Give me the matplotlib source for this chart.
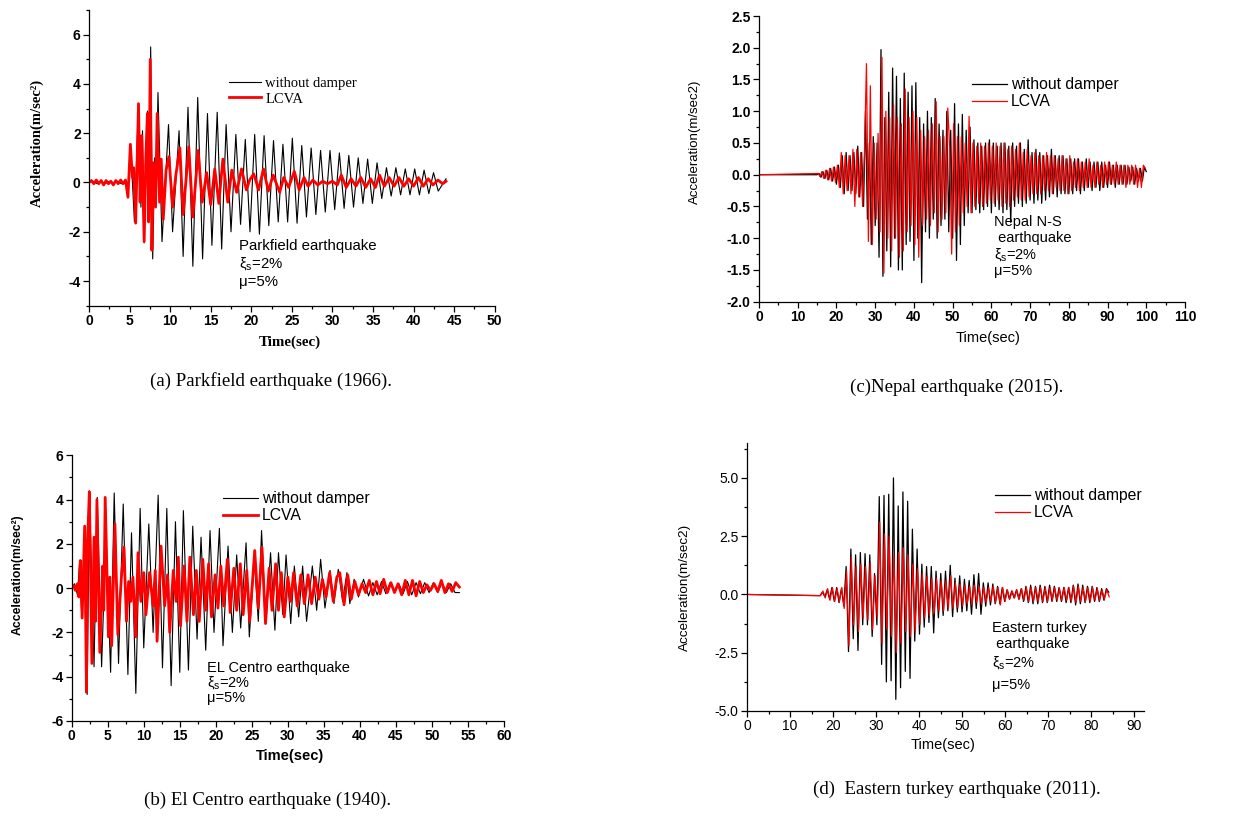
import numpy as np
import matplotlib
matplotlib.use("Agg")
import matplotlib.pyplot as plt
from matplotlib.ticker import MultipleLocator, FormatStrFormatter

plt.rcParams['axes.unicode_minus'] = False
plt.rcParams['mathtext.fontset'] = 'custom'
plt.rcParams['mathtext.rm'] = 'Liberation Sans'
plt.rcParams['mathtext.it'] = 'Liberation Sans:italic'
plt.rcParams['font.family'] = ['Liberation Sans', 'DejaVu Sans']

# ---------------- data (successive peaks / troughs) ----------------
# (a) Parkfield 1966
park_black_t = [0, 0.5, 1, 1.5, 2, 2.5, 3, 3.5, 4, 4.5, 4.8, 5.1, 5.4, 5.6, 6.1, 6.4, 6.6, 6.8,
                7.2, 7.4, 7.6, 7.85, 8.1, 8.25, 8.5, 9.0, 9.8, 10.3, 11.1, 11.6, 12.2, 12.8,
                13.4, 14.0, 14.6, 15.15, 15.8, 16.35, 16.9, 17.5]
park_black_v = [0, 0.05, -0.05, 0.05, -0.05, 0.05, -0.05, 0.05, -0.05, 0.05, -0.55, 1.5, -0.3, -1.6,
                3.2, -1.0, 2.1, -2.45, 2.9, -1.5, 5.5, -3.1, 1.0, -1.0, 3.65, -2.4, 2.35, -2.0,
                2.1, -3.0, 3.05, -3.4, 3.45, -3.1, 2.8, -2.55, 2.85, -2.7, 2.35, -2.0]
# free vibration tail, one value every half cycle (0.58 s) from 18.1 s
park_tail_start, park_tail_step = 18.1, 0.58
park_tail_v = [1.95, -1.7, 1.75, -2.0, 1.95, -2.1, 1.9, -1.75, 1.7, -1.6, 1.55, -1.6, 1.8, -1.65,
               1.5, -1.4, 1.4, -1.3, 1.3, -1.2, 1.3, -1.1, 1.2, -1.05, 1.1, -1.0, 1.0, -0.85,
               0.95, -0.85, 0.8, -0.65, 0.6, -0.55, 0.6, -0.5, 0.55, -0.5, 0.55, -0.5, 0.5,
               -0.45, 0.4, -0.35]
park_end = (44.0, 0.15)

park_red_t = [0, 0.3, 0.6, 0.9, 1.2, 1.5, 1.8, 2.1, 2.4, 2.7, 3.0, 3.3, 3.6, 3.9, 4.2, 4.5, 4.8,
              5.1, 5.35, 5.5, 5.75, 6.1, 6.3, 6.5, 6.8, 7.0, 7.2, 7.35, 7.55, 7.75, 7.95, 8.2,
              8.4, 8.7, 8.9, 9.15, 9.5, 9.85, 10.3, 10.7, 11.2, 11.6, 12.3, 12.8, 13.45, 13.95,
              14.5, 15.0, 15.5, 16.0, 16.5, 17.1, 17.6, 18.2, 18.8, 19.4, 19.8, 20.3, 20.9,
              21.5, 22.1, 22.7, 23.5, 24.0, 24.6, 25.3, 25.9, 26.5, 27.0, 27.6, 28.2, 28.8,
              29.4, 30.0, 30.6, 31.1, 31.7, 32.3, 32.9, 33.5, 34.1, 34.7, 35.3, 35.8, 36.4,
              37.0, 37.6, 38.2, 38.8, 39.4, 40.0, 40.6, 41.2, 41.8, 42.4, 43.0, 43.6, 44.0]
park_red_v = [0, 0.08, -0.05, 0.1, -0.05, 0.08, -0.1, 0.08, -0.05, 0.05, -0.1, 0.08, -0.05, 0.1,
              -0.05, 0.1, -0.6, 1.55, 0.2, 0.6, -1.65, 3.2, -0.8, 1.9, -2.4, 1.0, 2.8, -1.6, 5.0,
              -2.75, 0.8, -1.0, 2.8, -0.8, 0.95, -1.5, 0.5, 1.05, -1.0, 0.3, 1.4, -1.3, 1.45,
              -1.4, 1.3, -0.8, 0.4, -0.9, 0.55, -0.85, 0.95, -0.8, 0.5, -0.4, 0.55, -0.3, 0.1,
              0.35, -0.3, 0.55, -0.35, 0.3, -0.4, 0.2, -0.2, 0.45, -0.3, 0.2, -0.15, 0.1, -0.1,
              0.05, -0.05, 0.05, -0.1, 0.3, -0.2, 0.15, -0.15, 0.2, -0.2, 0.15, -0.2, 0.3, -0.15,
              0.2, -0.15, 0.2, -0.15, 0.15, -0.15, 0.2, -0.15, 0.15, -0.1, 0.1, -0.05, 0.05]

# (b) El Centro 1940
elc_black_t = [0, 0.4, 0.8, 1.1, 1.4, 1.8, 2.15, 2.45, 3.1, 3.55, 4.15, 4.75, 5.4, 5.9, 6.5, 7.15,
               7.8, 8.3, 8.9, 9.5, 10.0, 10.7, 11.3, 12.0, 12.6, 13.2, 13.8, 14.4, 15.0, 15.5,
               16.2, 16.8, 17.4, 17.95, 18.6, 19.2, 19.75, 20.5, 21.0, 21.7, 22.3, 22.9, 23.45,
               24.2, 24.65, 25.35, 25.9, 26.35, 26.95, 27.6, 28.2, 28.7, 29.3, 29.75, 30.4,
               30.9, 31.5, 32.05, 32.6, 33.4, 34.0, 34.55, 35.15, 35.85, 36.4, 37.0, 37.6, 38.2,
               38.6, 39.2, 39.8, 40.5, 41.2, 41.8, 42.4, 43.0, 43.6, 44.2, 44.8, 45.4, 46.0,
               46.6, 47.2, 47.8, 48.4, 49.0, 49.6, 50.2, 50.8, 51.4, 52.0, 52.6, 53.2, 53.8]
elc_black_v = [0, 0.2, -0.3, 1.2, -1.3, 2.7, -4.8, 4.4, -3.55, 4.1, -3.55, 2.5, -3.8, 4.3, -3.4,
               3.8, -3.9, 2.5, -4.75, 3.6, -2.7, 2.9, -2.0, 4.2, -3.6, 3.6, -4.4, 3.0, -3.8, 3.5,
               -3.7, 2.8, -2.3, 2.3, -2.8, 2.6, -2.0, 2.7, -2.6, 1.9, -2.0, 1.5, -1.8, 2.05,
               -2.2, 1.3, -1.5, 2.6, -1.6, 1.6, -1.9, 1.6, -1.2, 1.5, -1.6, 1.0, -1.3, 1.0, -1.5,
               1.0, -1.0, 1.3, -0.9, 0.8, -0.7, 0.85, -0.6, 0.7, -0.7, 0.4, -0.4, 0.4, -0.35,
               0.25, -0.3, 0.3, -0.25, 0.25, -0.2, 0.2, -0.25, 0.3, -0.3, 0.25, -0.25, 0.25,
               -0.2, 0.25, -0.2, 0.25, -0.2, 0.2, -0.2, -0.2]

elc_red_t = [0, 0.3, 0.5, 0.8, 1.0, 1.2, 1.45, 1.8, 2.05, 2.2, 2.45, 2.8, 3.1, 3.3, 3.5, 3.9, 4.3,
             4.45, 4.65, 5.1, 5.3, 5.55, 6.0, 6.4, 6.9, 7.25, 7.6, 7.9, 8.2, 8.5, 8.9, 9.2, 9.6,
             10.0, 10.3, 10.8, 11.3, 11.6, 11.85, 12.4, 12.9, 13.3, 13.6, 14.1, 14.5, 14.8,
             15.1, 15.6, 16.0, 16.4, 16.9, 17.3, 17.7, 18.2, 18.6, 19.0, 19.4, 19.9, 20.3, 20.7,
             21.1, 21.6, 22.0, 22.5, 22.9, 23.4, 23.8, 24.3, 24.7, 25.4, 25.9, 26.4, 26.9, 27.4,
             27.8, 28.3, 28.7, 29.1, 29.5, 30.0, 30.4, 30.8, 31.3, 31.8, 32.3, 32.8, 33.3, 33.8,
             34.3, 34.8, 35.3, 35.8, 36.3, 36.8, 37.2, 37.8, 38.3, 38.8, 39.3, 39.8, 40.3, 40.8,
             41.3, 41.8, 42.3, 42.8, 43.3, 43.8, 44.3, 44.8, 45.3, 45.8, 46.3, 46.8, 47.3, 47.8,
             48.3, 48.8, 49.3, 49.8, 50.3, 50.8, 51.3, 51.8, 52.3, 52.8, 53.3, 53.8]
elc_red_v = [0, 0.1, -0.1, 0.2, -0.4, 1.25, -1.35, 2.8, -4.7, 2.1, 4.35, -3.4, 2.3, -1.5, 4.0,
             -2.9, 1.0, -1.0, 4.1, -2.2, 0.5, -2.6, 2.9, -2.1, 0.5, 1.85, -1.5, 0.3, -0.6, 0.5,
             -2.2, 1.6, -0.6, 0.7, -1.2, 0.7, -0.8, 0.8, -2.4, 1.9, -0.8, 0.6, -2.0, 0.8, -0.6,
             1.4, -1.7, 1.0, -1.5, 1.4, -1.2, 0.8, -1.5, 1.3, -1.0, 1.1, -1.3, 0.6, -0.9, 1.0,
             -0.8, 1.3, -1.1, 0.9, -1.0, 1.1, -1.2, 0.8, -1.5, 1.7, -0.9, 1.85, -1.6, 0.9, -1.0,
             1.1, -1.0, 0.7, -1.3, 0.5, -0.6, 0.7, -0.8, 0.6, -0.7, 0.6, -0.7, 0.5, -0.5, 0.4,
             -0.4, 0.7, -0.6, 0.5, 0.7, -0.75, 0.6, -0.5, 0.3, -0.3, 0.2, -0.2, 0.35, -0.3, 0.3,
             -0.25, 0.4, -0.2, 0.25, -0.2, 0.2, -0.3, 0.35, -0.3, 0.35, -0.35, 0.3, -0.2, 0.15,
             -0.1, 0.2, -0.15, 0.35, -0.2, 0.2, -0.15, 0.25, 0.05]

# (c) Nepal 2015 - one value every 0.5 s after the quiet start
nepal_black_start, nepal_red_start, nepal_step = 15.0, 15.25, 0.5
nepal_black_v = [
    0.0, 0.02, -0.04, 0.05, -0.06, 0.07, -0.08, 0.1, -0.1, 0.12,            # 15-19.5
    -0.15, 0.15, -0.2, 0.3, -0.3, 0.35, -0.25, 0.3, -0.25, 0.35,            # 20-24.5
    -0.3, 0.45, -0.35, 0.35, -0.5, 1.0, -0.7, 0.5, -1.1, 0.6,               # 25-29.5
    -0.8, 0.5, -1.3, 1.97, -1.6, 0.9, -1.2, 1.3, -1.45, 1.68,               # 30-34.5
    -1.0, 1.55, -1.5, 1.2, -1.5, 1.6, -1.1, 1.3, -1.05, 1.4,                # 35-39.5
    -1.35, 1.45, -1.0, 0.9, -1.7, 0.8, -0.9, 1.0, -1.0, 0.9,                # 40-44.5
    -0.7, 1.2, -1.0, 0.8, -0.8, 0.7, -0.7, 1.0, -0.9, 0.7,                  # 45-49.5
    -1.0, 1.12, -1.35, 0.8, -1.1, 0.95, -0.8, 0.7, -0.6, 0.75,              # 50-54.5
    -0.6, 0.55, -0.55, 0.5, -0.6, 0.45, -0.55, 0.5, -0.5, 0.55,             # 55-59.5
    -0.6, 0.5, -0.5, 0.45, -0.55, 0.5, -0.6, 0.5, -0.55, 0.45,              # 60-64.5
    -0.75, 0.5, -0.5, 0.45, -0.45, 0.5, -0.5, 0.4, -0.45, 0.55,             # 65-69.5
    -0.4, 0.35, -0.45, 0.4, -0.4, 0.35, -0.45, 0.3, -0.4, 0.3,              # 70-74.5
    -0.35, 0.4, -0.3, 0.3, -0.35, 0.3, -0.3, 0.3, -0.3, 0.25,               # 75-79.5
    -0.3, 0.25, -0.3, 0.25, -0.25, 0.25, -0.3, 0.2, -0.25, 0.25,            # 80-84.5
    -0.2, 0.2, -0.25, 0.2, -0.2, 0.2, -0.25, 0.2, -0.2, 0.15,               # 85-89.5
    -0.2, 0.2, -0.15, 0.15, -0.2, 0.15, -0.15, 0.15, -0.15, 0.15,           # 90-94.5
    -0.15, 0.12, -0.1, 0.12, -0.15, 0.1, -0.1, 0.1, -0.1, 0.12, 0.05]       # 95-100
nepal_red_v = [
    0.02, -0.03, 0.05, -0.06, 0.07, -0.08, 0.1, -0.1, 0.12, -0.12,          # 15.25-19.75
    0.15, -0.2, 0.35, -0.3, 0.3, -0.25, 0.3, -0.3, 0.4, -0.5,               # 20.25-24.75
    0.4, -0.35, 0.35, -0.5, 0.4, 1.75, -1.05, 1.4, -1.1, 0.5,               # 25.25-29.75
    -0.7, 0.65, -0.9, 1.85, -1.55, 1.0, -1.0, 0.9, -1.2, 1.1,               # 30.25-34.75
    -1.0, 0.9, -1.3, 0.8, -1.2, 1.35, -0.9, 0.9, -0.8, 1.0,                 # 35.25-39.75
    -1.1, 0.9, -1.3, 0.7, -0.8, 0.6, -0.7, 0.7, -0.8, 0.8,                  # 40.25-44.75
    -0.6, 1.15, -0.9, 0.6, -0.7, 0.6, -0.6, 1.05, 0.4, -1.25,               # 45.25-49.75
    0.8, -0.9, 0.6, -0.8, 0.6, -0.6, 0.5, -0.5, 0.92, -0.6,                 # 50.25-54.75
    0.5, -0.5, 0.45, -0.45, 0.5, -0.5, 0.45, -0.45, 0.5, -0.4,              # 55.25-59.75
    0.45, -0.45, 0.5, -0.4, 0.45, -0.5, 0.5, -0.45, 0.4, -0.5,              # 60.25-64.75
    0.45, -0.4, 0.4, -0.35, 0.5, -0.4, 0.35, -0.4, 0.4, -0.35,              # 65.25-69.75
    0.3, -0.3, 0.35, -0.3, 0.3, -0.3, 0.3, -0.25, 0.35, -0.25,              # 70.25-74.75
    0.3, -0.3, 0.3, -0.2, 0.25, -0.25, 0.3, -0.25, 0.25, -0.3,              # 75.25-79.75
    0.3, -0.25, 0.2, -0.2, 0.25, -0.25, 0.2, -0.2, 0.2, -0.2,               # 80.25-84.75
    0.25, -0.2, 0.15, -0.2, 0.2, -0.15, 0.15, -0.2, 0.2, -0.15,             # 85.25-89.75
    0.2, -0.15, 0.15, -0.15, 0.2, -0.15, 0.15, -0.15, 0.15, -0.2,           # 90.25-94.75
    0.15, -0.15, 0.15, -0.15, 0.15, -0.2, 0.1, -0.2, 0.15, 0.1]             # 95.25-99.75

# (d) Eastern Turkey 2011 - one value every 0.55 s after the quiet start
turkey_black_start, turkey_red_start, turkey_step = 17.0, 17.1, 0.55
turkey_black_v = [
    -0.05, 0.1, -0.1, 0.2, -0.2, 0.3, -0.3, 0.3, -0.35, 0.25,
    -0.5, 1.2, -2.45, 1.95, -1.9, 1.7, -2.4, 1.8, -1.3, 1.75,
    -1.3, 1.7, -1.8, 0.9, -1.3, 4.2, -3.0, 4.25, -3.75, 4.3,
    -3.7, 5.0, -4.5, 3.8, -4.0, 4.4, -3.3, 4.0, -3.6, 2.8,
    -2.0, 1.95, -1.7, 1.3, -1.4, 1.2, -1.2, 1.2, -1.65, 1.0,
    -1.0, 0.9, -0.9, 1.0, -0.7, 1.25, -0.95, 0.7, -0.75, 0.8,
    -0.75, 0.65, -0.7, 0.6, -0.85, 0.85, -0.6, 0.9, -0.85, 0.5,
    -0.5, 0.5, -0.45, 0.45, -0.4, 0.35, -0.4, 0.3, -0.3, 0.2,
    -0.2, 0.15, -0.15, 0.2, -0.2, 0.25, -0.3, 0.35, -0.35, 0.4,
    -0.4, 0.35, -0.4, 0.4, -0.35, 0.35, -0.35, 0.4, -0.3, 0.35,
    -0.3, 0.3, -0.3, 0.3, -0.35, 0.3, -0.35, 0.4, -0.45, 0.45,
    -0.4, 0.4, -0.35, 0.35, -0.35, 0.35, -0.3, 0.3, -0.3, 0.25,
    -0.25, 0.25, 0.1]
turkey_red_v = [
    -0.05, 0.15, -0.15, 0.25, -0.25, 0.3, -0.3, 0.25, -0.3, 0.3,
    -0.6, 1.0, -2.2, 1.6, -1.3, 1.2, -1.6, 1.3, -1.0, 1.2,
    -1.1, 1.35, -1.5, 0.8, -1.0, 3.1, -2.1, 2.6, -1.5, 2.5,
    -1.8, 1.7, -2.5, 1.8, -2.1, 2.0, -1.6, 1.7, -1.8, 1.3,
    -1.6, 1.1, -1.3, 0.9, -1.0, 0.8, -0.9, 0.7, -0.8, 0.7,
    -0.7, 0.6, -0.7, 0.6, -0.6, 0.8, -0.6, 0.5, -0.55, 0.45,
    -0.5, 0.4, -0.4, 0.35, -0.45, 0.4, -0.35, 0.35, -0.4, 0.3,
    -0.35, 0.3, -0.3, 0.35, -0.35, 0.3, -0.45, 0.3, -0.3, 0.2,
    -0.2, 0.15, -0.15, 0.2, -0.2, 0.25, -0.25, 0.3, -0.3, 0.3,
    -0.3, 0.3, -0.3, 0.3, -0.3, 0.3, -0.3, 0.3, -0.25, 0.3,
    -0.25, 0.25, -0.25, 0.3, -0.25, 0.3, -0.3, 0.35, -0.35, 0.35,
    -0.3, 0.3, -0.3, 0.3, -0.3, 0.3, -0.25, 0.25, -0.25, 0.2,
    -0.2, 0.2, -0.1]

series_names = ['without damper', 'LCVA']
captions = ['(a) Parkfield earthquake (1966).', '(c)Nepal earthquake (2015).',
            '(b) El Centro earthquake (1940).', '(d)  Eastern turkey earthquake (2011).']


def dense(start, step, vals):
    # quiet record (zero) from t=0, then the read peaks at the record step
    t = start + step * np.arange(len(vals))
    return np.r_[0.0, t], np.r_[0.0, vals]


def fx(px):
    return px / 1234.0


def fy(py):
    return 1.0 - py / 816.0


def setup(ax, xlim, ylim, xmaj, xmin, ymaj, ymin, yfmt, weight):
    ax.set_xlim(xlim)
    ax.set_ylim(ylim)
    ax.spines['top'].set_visible(False)
    ax.spines['right'].set_visible(False)
    for s in ('left', 'bottom'):
        ax.spines[s].set_linewidth(0.9)
    ax.xaxis.set_major_locator(MultipleLocator(xmaj))
    ax.xaxis.set_minor_locator(MultipleLocator(xmin))
    ax.yaxis.set_major_locator(MultipleLocator(ymaj))
    ax.yaxis.set_minor_locator(MultipleLocator(ymin))
    ax.yaxis.set_major_formatter(FormatStrFormatter(yfmt))
    ax.xaxis.set_major_formatter(FormatStrFormatter('%d'))
    ax.tick_params(which='both', direction='out', width=0.9, pad=2)
    ax.tick_params(which='major', length=4, labelsize=10)
    ax.tick_params(which='minor', length=2.5)
    for lab in ax.get_xticklabels() + ax.get_yticklabels():
        lab.set_fontweight(weight)


def legend(ax, x, y, prop):
    ax.legend(series_names, loc='upper left', bbox_to_anchor=(fx(x), fy(y)),
              bbox_transform=fig.transFigure, frameon=False, borderpad=0, borderaxespad=0,
              handlelength=2.2, handletextpad=0.3, labelspacing=0.15, prop=prop)


def notes(lines, x, ys, size):
    for s, y in zip(lines, ys):
        fig.text(fx(x), fy(y), s, fontsize=size, ha='left', va='center',
                 family='Liberation Sans')


fig = plt.figure(figsize=(12.34, 8.16), dpi=100)
ax_a = fig.add_axes([fx(89), fy(305.7), fx(494.7) - fx(89), fy(10) - fy(305.7)])
ax_c = fig.add_axes([fx(759), fy(301.7), fx(1185) - fx(759), fy(16) - fy(301.7)])
ax_b = fig.add_axes([fx(71.7), fy(721), fx(504) - fx(71.7), fy(455.3) - fy(721)])
ax_d = fig.add_axes([fx(747), fy(711), fx(1144) - fx(747), fy(443) - fy(711)])

# ---- (a) Parkfield
pb_t = np.r_[park_black_t, park_tail_start + park_tail_step * np.arange(len(park_tail_v)), park_end[0]]
pb_v = np.r_[park_black_v, park_tail_v, park_end[1]]
ax_a.plot(pb_t, pb_v, color='black', lw=0.8)
ax_a.plot(park_red_t, park_red_v, color='#ff0000', lw=2.0)
setup(ax_a, (0, 50), (-5, 7), 5, 2.5, 2, 1, '%d', 'bold')
legend(ax_a, 229, 77, {'family': 'Liberation Serif', 'size': 10.5})
notes(['Parkfield earthquake', r'ξ$_\mathrm{s}$=2%', 'μ=5%'], 239, [246, 264, 282], 10.8)
fig.text(fx(37), fy(143), 'Acceleration(m/sec²)', rotation=90, ha='center', va='center',
         family='Liberation Serif', weight='bold', fontsize=10.5)
fig.text(fx(290), fy(342), 'Time(sec)', ha='center', va='center',
         family='Liberation Serif', weight='bold', fontsize=10.8)

# ---- (c) Nepal
nb_t, nb_v = dense(nepal_black_start, nepal_step, nepal_black_v)
nr_t, nr_v = dense(nepal_red_start, nepal_step, nepal_red_v)
ax_c.plot(nb_t, nb_v, color='black', lw=0.9)
ax_c.plot(nr_t, nr_v, color='#ff0000', lw=0.9)
setup(ax_c, (0, 110), (-2, 2.5), 10, 5, 0.5, 0.25, '%.1f', 'bold')
legend(ax_c, 972, 77, {'family': 'Liberation Sans', 'size': 11.3})
notes(['Nepal N-S', ' earthquake', r'ξ$_\mathrm{s}$=2%', 'μ=5%'], 994, [222, 238, 255, 271], 10.5)
fig.text(fx(695), fy(142), 'Acceleration(m/sec2)', rotation=90, ha='center', va='center',
         fontsize=9.5)
fig.text(fx(988), fy(338), 'Time(sec)', ha='center', va='center', fontsize=10.5)

# ---- (b) El Centro
ax_b.plot(elc_black_t, elc_black_v, color='black', lw=0.8)
ax_b.plot(elc_red_t, elc_red_v, color='#ff0000', lw=2.0)
setup(ax_b, (0, 60), (-6, 6), 5, 2.5, 2, 1, '%d', 'bold')
legend(ax_b, 223, 491, {'family': 'Liberation Sans', 'size': 11.3})
notes(['EL Centro earthquake', r'ξ$_\mathrm{s}$=2%', 'μ=5%'], 207, [668, 683, 698], 10.5)
fig.text(fx(18), fy(575), 'Acceleration(m/sec²)', rotation=90, ha='center', va='center',
         weight='bold', fontsize=8.8)
fig.text(fx(290), fy(756), 'Time(sec)', ha='center', va='center', weight='bold', fontsize=10.5)

# ---- (d) Eastern Turkey
tb_t, tb_v = dense(turkey_black_start, turkey_step, turkey_black_v)
tr_t, tr_v = dense(turkey_red_start, turkey_step, turkey_red_v)
ax_d.plot(tb_t, tb_v, color='black', lw=0.9)
ax_d.plot(tr_t, tr_v, color='#ff0000', lw=0.9)
setup(ax_d, (0, 92.3), (-5, 6.5), 10, 5, 2.5, 1.25, '%.1f', 'normal')
legend(ax_d, 995, 488, {'family': 'Liberation Sans', 'size': 11.3})
notes(['Eastern turkey', ' earthquake', r'ξ$_\mathrm{s}$=2%', 'μ=5%'], 992, [628, 644, 663, 685], 10.5)
fig.text(fx(685), fy(587), 'Acceleration(m/sec2)', rotation=90, ha='center', va='center',
         fontsize=9.7)
fig.text(fx(943), fy(745), 'Time(sec)', ha='center', va='center', fontsize=10.5)

# ---- captions
for cap, (x, y) in zip(captions, [(271, 381), (957, 387), (268, 800), (957, 789)]):
    fig.text(fx(x), fy(y), cap, ha='center', va='center', family='Liberation Serif', fontsize=13.6)

fig.savefig('out.png', dpi=100)
